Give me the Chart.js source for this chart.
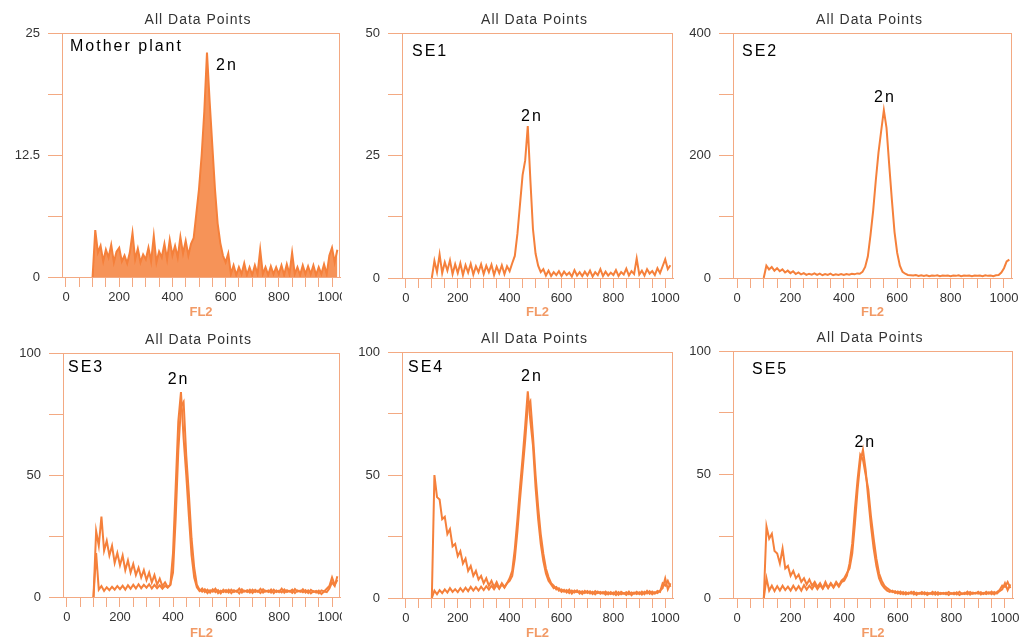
<!DOCTYPE html>
<html>
<head>
<meta charset="utf-8">
<script src="https://cdn.jsdelivr.net/npm/chart.js@4.4.1/dist/chart.umd.min.js"></script>
<style>
  body { margin: 0; background: #fff; }
  #wrap { position: relative; width: 1022px; height: 641px; overflow: hidden; }
  .panel { position: absolute; overflow: hidden; }
</style>
</head>
<body>
<div id="wrap"></div>
<script>
// FL2 histograms, one value per 10-channel bin starting at channel 100
const motherPlant = [
  0, 4.8, 2.5, 3.2, 1.6, 2.8, 2, 3.3, 1.5, 2.6,
  3, 1.6, 2.2, 1.4, 2.5, 4.5, 1.8, 2.9, 1.5, 2.3,
  1.8, 3, 1.6, 4.2, 1.5, 2.6, 2, 3.4, 1.8, 3.8,
  2.2, 3.2, 2, 4.1, 2.4, 3.7, 2.2, 3.4, 4, 6.5,
  9, 12.5, 17, 23, 18, 13.5, 9, 5.5, 3.5, 2.2,
  1.5, 2.4, 0.3, 1.2, 0.2, 1, 0.3, 1.4, 0.2, 1,
  0.2, 1.2, 0.3, 2.8, 0.3, 1, 0.2, 1.1, 0.3, 1,
  0.3, 1.2, 0.2, 1.3, 0.3, 2.5, 0.3, 1, 0.2, 1.2,
  0.3, 1.1, 0.3, 1.2, 0.2, 1, 0.3, 1.3, 0.3, 2.2,
  3, 1.5, 2.8
];
const se1 = [
  0, 3.5, 1.2, 4.8, 1, 3.2, 1.5, 3.6, 0.8, 2.8,
  1, 3, 0.6, 2.6, 1.1, 2.9, 0.7, 2.4, 1.2, 2.8,
  0.8, 2.5, 1.2, 2.7, 0.6, 2.3, 1, 2.6, 0.8, 2.4,
  1.4, 3, 4.5, 9, 15, 21, 24, 31, 20, 10,
  5, 2.5, 1.2, 1.8, 0.5, 1.5, 0.4, 1.2, 0.6, 1.4,
  0.4, 1.3, 0.6, 1.1, 0.3, 1.6, 0.5, 1.2, 0.4, 1.3,
  0.5, 1.5, 0.3, 1.2, 0.6, 1.8, 0.4, 1.3, 0.5, 1.1,
  0.6, 1.6, 0.4, 1.2, 0.7, 1.9, 0.5, 1.4, 0.8, 4,
  0.7, 1.5, 0.5, 1.8, 0.9, 1.4, 0.6, 2, 1, 2.4,
  3.8, 1.8, 2.6
];
const se2 = [
  0, 20, 14, 18, 12, 16, 11, 14, 9, 12,
  8, 11, 6.5, 9, 6, 8, 5, 7, 5.5, 7.5,
  5, 7, 4.5, 6.5, 5, 7, 4.5, 6, 5, 6.5,
  5, 6.5, 5.5, 7, 6, 7.5, 7, 10, 18, 35,
  70, 110, 160, 205, 240, 274, 245, 185, 128, 75,
  41, 20, 10, 7, 5, 4.5, 4, 5, 3.5, 4.5,
  3.5, 4.5, 3, 4, 3.5, 4.5, 3, 4, 3.5, 4,
  3, 4, 3.5, 4.5, 3, 4, 3.5, 4, 3, 4,
  3.5, 4, 3, 4.5, 3.5, 4, 3, 4.5, 5, 9,
  16, 27, 30
];
const se3 = [
  0, 27, 21, 33, 19, 23, 17, 21, 14, 18,
  13, 17, 11, 15, 10, 13.5, 9, 12, 8, 11,
  7, 10, 6, 9, 5, 7.5, 4.5, 6, 4, 5,
  18, 45, 72, 84, 65, 50, 33, 17, 8, 4,
  2.5, 3.5, 2, 3, 1.8, 3.2, 2, 2.8, 1.5, 3,
  2, 3, 1.6, 2.8, 2.2, 3.4, 1.8, 2.6, 2, 3,
  1.7, 2.9, 2.1, 3.3, 1.8, 2.6, 2, 3.1, 1.6, 2.7,
  2, 3.4, 1.8, 2.8, 2.2, 3, 1.6, 2.7, 2.1, 3.2,
  1.8, 2.7, 1.5, 2.4, 1.8, 2.6, 1.2, 2.2, 2, 3.5,
  6, 4.5, 8.5
];
const se3Low = [
  0, 18, 3, 4.5, 2.5, 4, 2.8, 4.2, 3, 4.5,
  3.2, 4.6, 3, 4.8, 3.4, 5, 3.5, 5.2, 3.6, 5,
  3.8, 5.2, 3.5, 5, 3.6, 4.8, 3.4, 4.6, 3.8, 5,
  10, 32, 60, 78, 80, 58, 42, 24, 12, 5,
  3, 2.2, 3.2, 1.6, 2.8, 2.2, 3.4, 1.6, 2.6, 2,
  2.8, 1.8, 3, 2, 2.6, 1.5, 3.2, 2.2, 2.8, 1.8,
  3, 2, 2.6, 1.6, 3.2, 2.2, 2.7, 1.8, 3, 2,
  2.6, 1.9, 3.1, 2, 2.5, 1.7, 3.3, 2.2, 2.6, 1.9,
  2.8, 1.6, 2.9, 2.1, 2.5, 1.5, 2.7, 2.3, 3.4, 4.5,
  8, 5, 7
];
const se4 = [
  0, 50, 41, 40, 32, 33, 26, 28, 21, 22,
  17, 19, 14, 16, 11, 13, 9, 11, 7.5, 9,
  6, 8, 5, 7, 4.5, 6.5, 4, 6, 4.5, 6,
  8, 11, 20, 32, 45, 57, 70, 84, 72, 62,
  45, 32, 22, 15, 10, 7, 5.5, 4, 4.5, 3,
  3.5, 2.5, 3.2, 2, 3, 2.2, 3.1, 1.8, 2.7, 2,
  2.8, 1.8, 2.5, 1.5, 2.6, 1.7, 2.4, 1.4, 2.3, 1.6,
  2.2, 1.2, 2.4, 1.5, 2, 1.3, 2.6, 1.1, 2.2, 1.6,
  2.3, 1.4, 2.5, 1.8, 2.8, 1.5, 2.4, 2, 3, 4,
  8, 3.5, 6
];
const se4Low = [
  0, 3, 1.5, 3.2, 2, 3.5, 2.2, 4, 2.5, 3.6,
  2.4, 4, 2.6, 4.2, 2.8, 4.5, 3, 4.4, 3, 4.6,
  3.2, 4.8, 3.4, 5, 3.6, 5.2, 3.8, 5.5, 4.2, 6,
  7, 9, 16, 27, 40, 52, 64, 78, 80, 66,
  50, 37, 26, 18, 12, 8.5, 6, 5, 3.5, 4,
  2.5, 3.3, 2.2, 3.4, 1.8, 3, 2.4, 2.8, 1.6, 2.9,
  2, 2.7, 1.6, 2.8, 2, 2.5, 1.8, 2.6, 1.5, 2.4,
  1.5, 2.6, 1.3, 2.5, 1.8, 2.4, 1.5, 2.3, 1.7, 2.5,
  1.6, 2.6, 1.5, 2.9, 1.7, 2.6, 1.8, 2.9, 2.5, 6,
  5, 7, 4.5
];
const se5 = [
  0, 29, 24, 26, 19, 18, 14, 20, 12, 13,
  9, 11, 8, 9.5, 6.5, 8, 5.5, 7.5, 5, 6.5,
  4.5, 6, 4, 6.5, 4.2, 6, 4.5, 6.5, 5, 7,
  8, 10, 12, 18, 30, 44, 55, 60, 52, 40,
  29, 20, 13, 8, 5.5, 4, 3, 2.5, 3, 2,
  2.6, 1.6, 2.4, 1.4, 2.2, 1.8, 2.5, 1.3, 2.1, 1.6,
  2.3, 1.2, 2, 1.5, 2.4, 1.3, 2.1, 1.7, 2.2, 1.2,
  2, 1.5, 2.3, 1.2, 1.9, 1.6, 2.6, 1.4, 2.2, 1.8,
  2.5, 1.4, 2.1, 1.6, 2.3, 1.5, 2.4, 1.8, 2.8, 3.5,
  6, 3.2, 5.5
];
const se5Low = [
  0, 8, 3, 5, 2.8, 4.8, 3, 5, 3.2, 4.6,
  3, 5, 3.2, 4.8, 3, 5.2, 3.4, 5, 3.6, 5.4,
  3.6, 5.2, 3.8, 5.6, 4, 5.8, 4.2, 6, 4.6, 6.4,
  7, 9, 14, 22, 36, 48, 58, 56, 50, 44,
  33, 24, 16, 10, 7, 5, 4, 3.2, 2.4, 2.8,
  1.8, 2.6, 1.5, 2.3, 1.6, 2.5, 1.4, 2.2, 1.7, 2.4,
  1.5, 2.2, 1.7, 2.5, 1.4, 2.3, 1.6, 2.1, 1.5, 2.4,
  1.7, 2.2, 1.4, 2.5, 1.6, 2.2, 1.5, 2.4, 1.7, 2.1,
  1.8, 2.4, 1.6, 2.5, 1.7, 2.6, 1.5, 2.4, 3.2, 5,
  4.5, 6.5, 4
];

const sampleNames = ['Mother plant', 'SE1', 'SE2', 'SE3', 'SE4', 'SE5'];
const sampleSeries = [[motherPlant], [se1], [se2], [se3, se3Low], [se4, se4Low], [se5, se5Low]];
const countMax = [25, 50, 400, 100, 100, 100];
const yTickValues = [
  [0, 6.25, 12.5, 18.75, 25],
  [0, 12.5, 25, 37.5, 50],
  [0, 100, 200, 300, 400],
  [0, 25, 50, 75, 100],
  [0, 25, 50, 75, 100],
  [0, 25, 50, 75, 100]
];
const yTickLabels = [
  ['0', '', '12.5', '', '25'],
  ['0', '', '25', '', '50'],
  ['0', '', '200', '', '400'],
  ['0', '', '50', '', '100'],
  ['0', '', '50', '', '100'],
  ['0', '', '50', '', '100']
];
const xTickValues = [0, 50, 100, 150, 200, 250, 300, 350, 400, 450, 500,
  550, 600, 650, 700, 750, 800, 850, 900, 950, 1000];
const xTickLabels = ['0', '', '', '', '200', '', '', '', '400', '', '',
  '', '600', '', '', '', '800', '', '', '', '1000'];
// where the "2n" tag sits, in FL2 / count units
const peakTagAt = [[605, 21.7], [486, 33], [554, 294], [421, 89], [486, 90], [479, 63]];

const binStart = 100;
const binWidth = 10;

// page layout: canvas box and plot area (canvas-local px)
const layout = [
  { x: 0,   y: 0,   w: 342, h: 320, left: 62, right: 340, top: 33, bottom: 277, name: [8, 14] },
  { x: 342, y: 0,   w: 338, h: 320, left: 60, right: 331, top: 33, bottom: 278, name: [10, 19] },
  { x: 682, y: 0,   w: 340, h: 320, left: 51, right: 330, top: 33, bottom: 278, name: [9, 19] },
  { x: 0,   y: 320, w: 342, h: 321, left: 63, right: 340, top: 33, bottom: 277, name: [5, 15] },
  { x: 342, y: 320, w: 338, h: 321, left: 60, right: 331, top: 32, bottom: 278, name: [6, 16] },
  { x: 682, y: 320, w: 340, h: 321, left: 51, right: 331, top: 31, bottom: 278, name: [19, 19] }
];

const orange = '#F5803B';
const frameColor = '#F3A982';
const textColor = '#333333';
Chart.defaults.font.family = '"Liberation Sans", Arial, sans-serif';

const frameAndText = {
  id: 'frameAndText',
  beforeDatasetsDraw(chart) {
    const a = chart.chartArea;
    const ctx = chart.ctx;
    ctx.save();
    ctx.strokeStyle = frameColor;
    ctx.lineWidth = 1;
    ctx.strokeRect(a.left + 0.5, a.top + 0.5, a.right - a.left - 1, a.bottom - a.top);
    ctx.restore();
  },
  afterDraw(chart, args, opts) {
    const a = chart.chartArea;
    const ctx = chart.ctx;
    const xs = chart.scales.x, ys = chart.scales.y;
    ctx.save();
    ctx.letterSpacing = '1px';
    ctx.fillStyle = textColor;
    ctx.font = '14px "Liberation Sans", Arial, sans-serif';
    ctx.textAlign = 'center';
    ctx.textBaseline = 'middle';
    ctx.fillText('All Data Points', (a.left + a.right) / 2 - 3, a.top - 13);
    ctx.fillStyle = '#000';
    ctx.letterSpacing = '2px';
    ctx.font = '16px "Liberation Sans", Arial, sans-serif';
    ctx.textAlign = 'left';
    ctx.fillText(opts.name, a.left + opts.nameAt[0], a.top + opts.nameAt[1]);
    ctx.textAlign = 'center';
    ctx.fillText('2n', xs.getPixelForValue(opts.tag[0]), ys.getPixelForValue(opts.tag[1]));
    ctx.restore();
  }
};

const wrap = document.getElementById('wrap');

sampleNames.forEach((name, p) => {
  const box = layout[p];
  const div = document.createElement('div');
  div.className = 'panel';
  div.style.left = box.x + 'px';
  div.style.top = box.y + 'px';
  div.style.width = box.w + 'px';
  div.style.height = box.h + 'px';
  const canvas = document.createElement('canvas');
  canvas.width = box.w;
  canvas.height = box.h;
  canvas.style.width = box.w + 'px';
  canvas.style.height = box.h + 'px';
  div.appendChild(canvas);
  wrap.appendChild(div);

  // the mother plant trace is sparse enough to read as a filled histogram
  const filled = p === 0;
  const datasets = sampleSeries[p].map(vals => ({
    data: vals.map((v, i) => ({ x: binStart + i * binWidth, y: v })),
    borderColor: orange,
    backgroundColor: 'rgba(245, 128, 59, 0.85)',
    borderWidth: 2,
    pointRadius: 0,
    fill: filled ? 'origin' : false,
    tension: 0
  }));

  new Chart(canvas, {
    type: 'line',
    data: { datasets },
    options: {
      responsive: false,
      animation: false,
      layout: { padding: { left: 0, top: box.top, right: box.w - box.right, bottom: 0 } },
      plugins: {
        legend: { display: false },
        tooltip: { enabled: false },
        frameAndText: { name, nameAt: box.name, tag: peakTagAt[p] }
      },
      scales: {
        x: {
          type: 'linear',
          min: -15,
          max: 1030,
          afterBuildTicks: s => { s.ticks = xTickValues.map(v => ({ value: v })); },
          afterFit: s => { s.height = box.h - box.bottom; s.paddingLeft = 0; s.paddingRight = 0; },
          ticks: {
            autoSkip: false, maxRotation: 0, minRotation: 0, padding: 3,
            color: textColor, font: { size: 13 },
            callback: (v, i) => xTickLabels[i]
          },
          grid: { drawOnChartArea: false, color: frameColor, tickLength: 10 },
          border: { color: frameColor },
          title: {
            display: true, text: 'FL2', color: '#F29A66',
            font: { size: 13, weight: 'bold' }, padding: { top: 0, bottom: 0 }
          }
        },
        y: {
          min: 0,
          max: countMax[p],
          afterBuildTicks: s => { s.ticks = yTickValues[p].map(v => ({ value: v })); },
          afterFit: s => { s.width = box.left; s.paddingTop = 0; s.paddingBottom = 0; },
          ticks: {
            autoSkip: false, padding: 8, color: textColor, font: { size: 13 },
            callback: (v, i) => yTickLabels[p][i]
          },
          grid: { drawOnChartArea: false, color: frameColor, tickLength: 14 },
          border: { color: frameColor }
        }
      }
    },
    plugins: [frameAndText]
  });
});
</script>
</body>
</html>
